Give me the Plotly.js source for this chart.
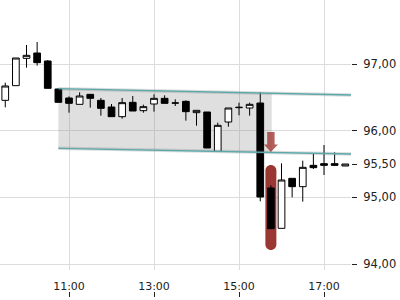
<!DOCTYPE html>
<html>
<head>
<meta charset="utf-8">
<script src="https://cdn.plot.ly/plotly-3.0.1.min.js"></script>
<style>html,body{margin:0;padding:0;background:#fff}#chart{width:400px;height:300px}</style>
</head>
<body>
<div id="chart"></div>
<script>
// Time in hours (15-minute candles)
var times = [9.5, 9.75, 10, 10.25, 10.5, 10.75, 11, 11.25, 11.5, 11.75, 12, 12.25, 12.5, 12.75, 13, 13.25, 13.5, 13.75, 14, 14.25, 14.5, 14.75, 15, 15.25, 15.5, 15.75, 16, 16.25, 16.5, 16.75, 17, 17.25, 17.5];
var openVals  = [96.455, 96.675, 97.085, 97.165, 97.045, 96.625, 96.49, 96.395, 96.545, 96.455, 96.355, 96.21, 96.425, 96.30, 96.40, 96.485, 96.415, 96.44, 96.27, 96.28, 95.69, 96.13, 96.345, 96.34, 96.415, 95.14, 94.535, 95.285, 95.16, 95.48, 95.505, 95.505, 95.47];
var highVals  = [96.72, 97.09, 97.285, 97.33, 97.06, 96.635, 96.515, 96.575, 96.545, 96.49, 96.40, 96.49, 96.52, 96.39, 96.545, 96.53, 96.47, 96.455, 96.305, 96.28, 96.12, 96.34, 96.42, 96.42, 96.58, 95.18, 95.51, 95.285, 95.55, 95.66, 95.785, 95.675, 95.50];
var lowVals   = [96.35, 96.675, 96.945, 96.975, 96.635, 96.425, 96.27, 96.395, 96.345, 96.225, 96.21, 96.18, 96.295, 96.27, 96.285, 96.41, 96.37, 96.15, 96.075, 95.74, 95.69, 96.06, 96.23, 96.225, 94.94, 94.53, 94.535, 95.00, 94.935, 95.425, 95.335, 95.47, 95.47];
var closeVals = [96.67, 97.09, 97.13, 97.02, 96.635, 96.425, 96.41, 96.52, 96.485, 96.335, 96.21, 96.42, 96.295, 96.36, 96.485, 96.41, 96.415, 96.285, 96.305, 95.74, 96.08, 96.34, 96.35, 96.395, 95.005, 94.53, 95.26, 95.16, 95.45, 95.445, 95.48, 95.48, 95.50];

// Tick labels
var xTickVals = [11, 13, 15, 17];
var xTickText = ['11:00', '13:00', '15:00', '17:00'];
var yTickVals = [94, 95, 95.5, 96, 97];
var yTickText = ['94,00', '95,00', '95,50', '96,00', '97,00'];
var yGridVals = [94, 95, 96, 97];

// Channel lines
var channelTimes = [10.75, 17.64];
var channelUpper = [96.63, 96.535];
var channelLower = [95.735, 95.65];
// Shaded zone span
var shadeTimes = [10.75, 15.77];
// Highlighted candle and arrow
var highlightTime = 15.75;
var highlightTop = 95.485;
var highlightBottom = 94.21;
var arrowTime = 15.75;
var arrowTip = 95.68;

var xRange = [9.3765, 17.635];
var yRange = [93.91, 97.96];

function lineAt(vals, t) {
  var f = (t - channelTimes[0]) / (channelTimes[1] - channelTimes[0]);
  return vals[0] + f * (vals[1] - vals[0]);
}

var shadePath = 'M' + shadeTimes[0] + ',' + lineAt(channelUpper, shadeTimes[0]) +
  ' L' + shadeTimes[1] + ',' + lineAt(channelUpper, shadeTimes[1]) +
  ' L' + shadeTimes[1] + ',' + lineAt(channelLower, shadeTimes[1]) +
  ' L' + shadeTimes[0] + ',' + lineAt(channelLower, shadeTimes[0]) + ' Z';

// pill geometry (pixel sizes converted to data units)
var plotW = 351, plotH = 270;
var hw = 5.5 * (xRange[1] - xRange[0]) / plotW;
var ry = 5.5 * (yRange[1] - yRange[0]) / plotH;
var k = 0.5523;
var xc = highlightTime, t = highlightTop, b = highlightBottom;
var pillPath = 'M' + (xc - hw) + ',' + (t - ry) +
  ' C' + (xc - hw) + ',' + (t - ry + k * ry) + ' ' + (xc - k * hw) + ',' + t + ' ' + xc + ',' + t +
  ' C' + (xc + k * hw) + ',' + t + ' ' + (xc + hw) + ',' + (t - ry + k * ry) + ' ' + (xc + hw) + ',' + (t - ry) +
  ' L' + (xc + hw) + ',' + (b + ry) +
  ' C' + (xc + hw) + ',' + (b + ry - k * ry) + ' ' + (xc + k * hw) + ',' + b + ' ' + xc + ',' + b +
  ' C' + (xc - k * hw) + ',' + b + ' ' + (xc - hw) + ',' + (b + ry - k * ry) + ' ' + (xc - hw) + ',' + (b + ry) + ' Z';

var data = [
  {
    type: 'candlestick',
    x: times, open: openVals, high: highVals, low: lowVals, close: closeVals,
    increasing: {fillcolor: '#ffffff', line: {color: '#000000', width: 1}},
    decreasing: {fillcolor: '#000000', line: {color: '#000000', width: 1}},
    whiskerwidth: 0,
    hoverinfo: 'skip',
    showlegend: false
  },
  {
    type: 'scatter', mode: 'lines', x: channelTimes, y: channelUpper,
    line: {color: 'rgba(120,120,120,0.25)', width: 3.5}, hoverinfo: 'skip', showlegend: false
  },
  {
    type: 'scatter', mode: 'lines', x: channelTimes, y: channelLower,
    line: {color: 'rgba(120,120,120,0.25)', width: 3.5}, hoverinfo: 'skip', showlegend: false
  },
  {
    type: 'scatter', mode: 'lines', x: channelTimes, y: channelUpper,
    line: {color: 'rgb(90,168,170)', width: 1.3}, hoverinfo: 'skip', showlegend: false
  },
  {
    type: 'scatter', mode: 'lines', x: channelTimes, y: channelLower,
    line: {color: 'rgb(90,168,170)', width: 1.3}, hoverinfo: 'skip', showlegend: false
  },
  {
    type: 'scatter', mode: 'markers', x: [xRange[0]], y: [yRange[0]],
    xaxis: 'x2', marker: {opacity: 0}, hoverinfo: 'skip', showlegend: false
  }
];

var layout = {
  width: 400, height: 300,
  margin: {l: 0, r: 49, t: 0, b: 0},
  paper_bgcolor: '#ffffff', plot_bgcolor: '#ffffff',
  font: {family: 'DejaVu Sans', size: 11, color: '#222'},
  showlegend: false,
  boxgap: 0.1, boxgroupgap: 0.3,
  xaxis: {
    range: xRange, rangeslider: {visible: false},
    tickvals: xTickVals, ticktext: xTickText,
    showgrid: true, gridcolor: '#dcdcdc', gridwidth: 1,
    zeroline: false, showline: false, ticks: '',
    ticklabelstandoff: 8,
    tickfont: {size: 11, color: '#222'},
    fixedrange: true
  },
  xaxis2: {
    overlaying: 'x', anchor: 'free', position: 0.01,
    range: xRange, tickvals: xTickVals, showticklabels: false,
    ticks: 'inside', ticklen: 5, tickcolor: '#222', tickwidth: 1,
    showgrid: false, zeroline: false, showline: false
  },
  yaxis: {
    domain: [0.1, 1], range: yRange, side: 'right',
    tickvals: yTickVals, ticktext: yTickText,
    showgrid: false, zeroline: false, showline: false,
    ticks: 'outside', ticklen: 5, tickcolor: '#222', tickwidth: 1,
    ticklabelstandoff: 4,
    tickfont: {size: 11.5, color: '#222'},
    minor: {tickvals: yGridVals, showgrid: true, gridcolor: '#dcdcdc', gridwidth: 1, ticks: ''},
    fixedrange: true
  },
  shapes: [
    {type: 'path', path: shadePath, xref: 'x', yref: 'y', layer: 'between',
     fillcolor: 'rgba(140,140,140,0.28)', line: {width: 0}},
    {type: 'path', path: pillPath, xref: 'x', yref: 'y', layer: 'between',
     fillcolor: 'rgb(155,55,50)', line: {width: 0}},
    {type: 'path', xref: 'x', yref: 'y', xsizemode: 'pixel', ysizemode: 'pixel',
     xanchor: arrowTime, yanchor: arrowTip, layer: 'above',
     path: 'M-3.7,20 L3.7,20 L3.7,7.5 L7,7.5 L0,0 L-7,7.5 L-3.7,7.5 Z',
     fillcolor: 'rgba(160,55,50,0.8)', line: {width: 0}}
  ]
};

Plotly.newPlot('chart', data, layout, {displayModeBar: false, staticPlot: true});
</script>
</body>
</html>
